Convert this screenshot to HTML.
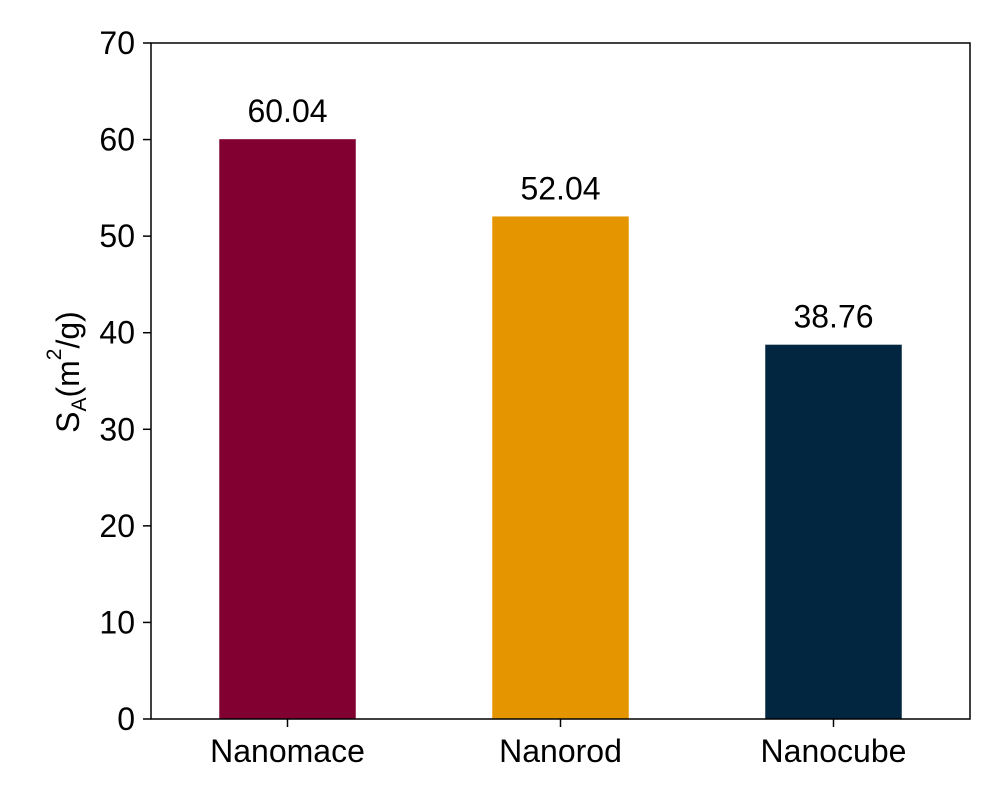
<!DOCTYPE html>
<html><head><meta charset="utf-8"><style>
body{margin:0;background:#fff;}
svg text{font-family:"Liberation Sans",Arial,sans-serif;fill:#000;}
</style></head><body>
<svg id="chart" width="1000" height="800" xmlns="http://www.w3.org/2000/svg"></svg>
<script>
const categories = ["Nanomace", "Nanorod", "Nanocube"];
const values = [60.04, 52.04, 38.76];
const labels = ["60.04", "52.04", "38.76"];
const colors = ["#820031", "#E59500", "#02263F"];
const yTicks = [0, 10, 20, 30, 40, 50, 60, 70];

const L = 151, R = 970, T = 43, B = 719;
const yMin = 0, yMax = 70;
const FS = 32;
const y = v => B - (v - yMin) / (yMax - yMin) * (B - T);
const step = (R - L) / categories.length;
const x = i => L + step * (i + 0.5);
const bw = step * 0.5;
const svg = document.getElementById('chart');
const NS = "http://www.w3.org/2000/svg";
function mk(tag, attrs, parent) {
  const e = document.createElementNS(NS, tag);
  for (const k in attrs) e.setAttribute(k, attrs[k]);
  (parent || svg).appendChild(e);
  return e;
}
categories.forEach((c, i) => {
  const r = mk('rect', {x: x(i) - bw / 2, y: y(values[i]), width: bw, height: y(0) - y(values[i]), fill: colors[i]});
  
  
  const t = mk('text', {x: x(i), y: y(values[i]) - 17, 'text-anchor': 'middle', 'font-size': FS});
  t.textContent = labels[i];
  
  
  mk('line', {x1: x(i), x2: x(i), y1: B, y2: B + 8, stroke: '#000', 'stroke-width': 1.5});
  const xl = mk('text', {x: x(i), y: B + 43, 'text-anchor': 'middle', 'font-size': FS});
  xl.textContent = c;
  
  
});
yTicks.forEach(v => {
  mk('line', {x1: L - 8, x2: L, y1: y(v), y2: y(v), stroke: '#000', 'stroke-width': 1.5});
  const t = mk('text', {x: L - 16, y: y(v) + 11, 'text-anchor': 'end', 'font-size': FS});
  t.textContent = v;
  
  
});
const frame = mk('rect', {x: L, y: T, width: R - L, height: B - T, fill: 'none', stroke: '#000', 'stroke-width': 1.5});


const yt = mk('text', {transform: 'translate(79,372) rotate(-90)', 'text-anchor': 'middle', 'font-size': FS});
yt.innerHTML = 'S<tspan font-size="21" dy="7">A</tspan><tspan dy="-7">(m</tspan><tspan font-size="21" dy="-18">2</tspan><tspan dy="18">/g)</tspan>';


</script>
</body></html>
